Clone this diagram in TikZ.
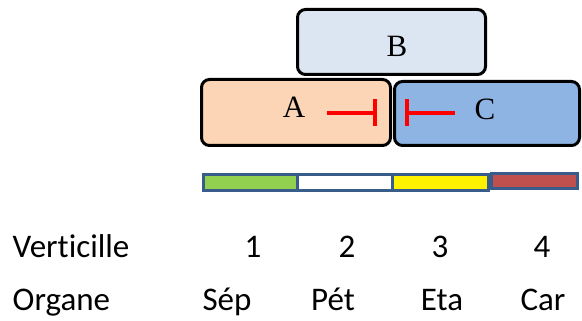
\documentclass[tikz,border=0pt]{standalone}
\usepackage{fontspec}
\setmainfont{Carlito}[Ligatures={NoCommon,TeX}]
\newfontfamily\boxfont{Liberation Serif}
\usetikzlibrary{arrows.meta}
\definecolor{peach}{HTML}{FBD5B5}
\definecolor{paleblue}{HTML}{DCE6F2}
\definecolor{midblue}{HTML}{8EB4E3}
\definecolor{stripedge}{HTML}{385D8A}
\definecolor{leafgreen}{HTML}{92D050}
\definecolor{carpelred}{HTML}{C0504D}
\tikzset{
  genebox/.style={draw=black, line width=3pt, rounded corners=8pt, inner sep=0pt},
  genelabel/.style={font=\boxfont\fontsize{31}{36}\selectfont, anchor=base, inner sep=0pt},
  whorl/.style={draw=stripedge, line width=3pt, inner sep=0pt},
  rowtext/.style={font=\fontsize{33}{40}\selectfont, anchor=base, inner sep=0pt},
  inhibit/.style={red, line width=4pt, -{Bar[width=27pt, line width=4pt]}}
}
\begin{document}
\begin{tikzpicture}[x=1pt, y=-1pt]
\useasboundingbox (0,0) rectangle (582,321);
% ABC domains
\node[genebox, fill=paleblue, minimum width=188pt, minimum height=65pt] (B) at (391.5,42) {};
\node[genebox, fill=peach, minimum width=189pt, minimum height=66pt] (A) at (296,112.5) {};
\node[genebox, fill=midblue, minimum width=185pt, minimum height=64pt] (C) at (487,113.5) {};
\node[genelabel] (Blab) at (397,57) {B};
\node[genelabel] (Alab) at (294,118) {A};
\node[genelabel] (Clab) at (485,120) {C};
% mutual repression of A and C
\coordinate (a1) at (327,113);
\coordinate (a2) at (377,113);
\coordinate (c1) at (455,113);
\coordinate (c2) at (405,113);
\draw[inhibit] (a1) -- (a2);
\draw[inhibit] (c1) -- (c2);
% floral whorls strip
\node[whorl, fill=leafgreen, minimum width=94pt, minimum height=16pt] (w1) at (250.5,182.5) {};
\node[whorl, fill=white, minimum width=95pt, minimum height=16pt] (w2) at (345,182.5) {};
\node[whorl, fill=yellow, minimum width=95.5pt, minimum height=16pt] (w3) at (440.25,182.5) {};
\node[whorl, fill=carpelred, minimum width=85.5pt, minimum height=15pt] (w4) at (534.25,181) {};
% rows of labels
\node[rowtext, anchor=base west] (vt) at (12.5,258) {Verticille};
\node[rowtext] (n1) at (253,258) {1};
\node[rowtext] (n2) at (347,258) {2};
\node[rowtext] (n3) at (440,258) {3};
\node[rowtext] (n4) at (542,258) {4};
\node[rowtext, anchor=base west] (org) at (12.5,310) {Organe};
\node[rowtext] (o1) at (227,310) {Sép};
\node[rowtext] (o2) at (333,310) {Pét};
\node[rowtext] (o3) at (442,310) {Eta};
\node[rowtext] (o4) at (543,310) {Car};
\end{tikzpicture}
\end{document}
